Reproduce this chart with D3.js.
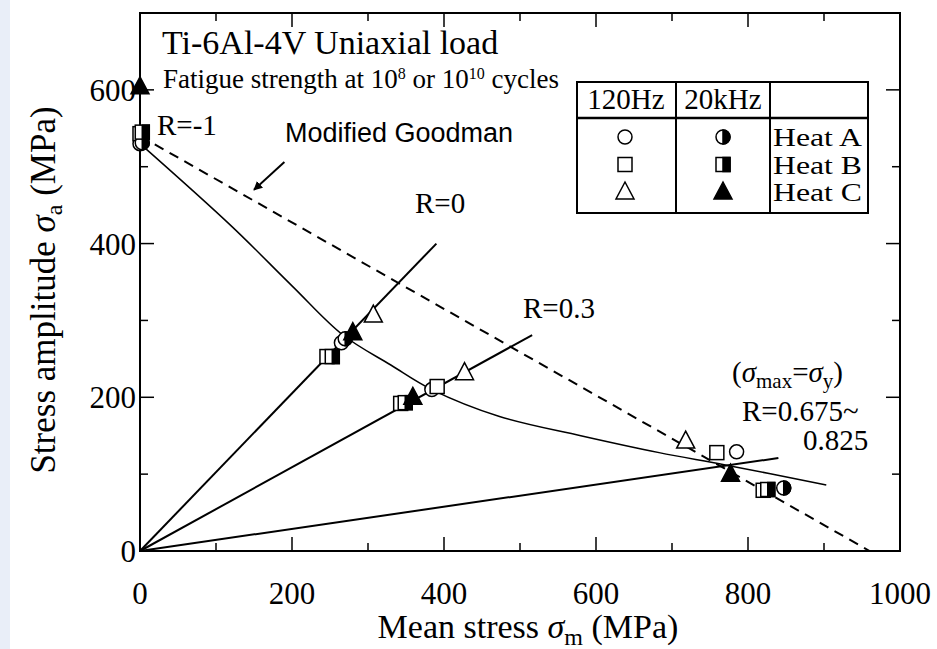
<!DOCTYPE html>
<html>
<head>
<meta charset="utf-8">
<script src="https://cdn.jsdelivr.net/npm/d3@7"></script>
<style>
  body { margin: 0; background: #fff; }
  svg { display: block; font-family: "Liberation Serif", "Times New Roman", serif; }
</style>
</head>
<body>
<div id="chart"></div>
<script>
// tick values
const xTicks = [0, 200, 400, 600, 800, 1000];
const yTicks = [0, 200, 400, 600];

// fatigue strength points [mean stress, stress amplitude]
const heatA120 = [[0, 530], [265, 271], [384, 210], [785, 129]];
const heatA20k = [[3, 531], [270, 276], [847, 82]];
const heatB120 = [[0, 543], [246, 253], [343, 192], [391, 214], [759, 128], [820, 79]];
const heatB20k = [[3, 545], [253, 253], [349, 193], [826, 80]];
const heatC120 = [[307, 307], [427, 232], [718, 143]];
const heatC20k = [[0, 604], [280, 284], [359, 200], [777, 100]];

// lines
const lineR0 = [[0, 0], [390, 400]];
const lineR03 = [[0, 0], [516, 281]];
const lineR075 = [[0, 0], [840, 121]];
const goodman = [[0, 540], [960, 0]];
const fitCurve = [[0, 530], [120, 423], [200, 345], [267, 281], [330, 242], [384, 210],
                  [473, 175], [580, 150], [683, 128], [770, 112], [903, 86]];
const arrowPts = [[190, 506], [150, 470]];

function drawChart() {
   const w = 937, h = 649;
   const svg = d3.select("#chart").append("svg")
                 .attr("width", w).attr("height", h);

   // light scan edge on the left
   svg.append("rect").attr("x", 0).attr("y", 0).attr("width", 10).attr("height", h)
      .attr("fill", "#e9eef8");

   const xScale = d3.scaleLinear().domain([0, 1000]).range([140, 900]);
   const yScale = d3.scaleLinear().domain([0, 700]).range([551, 13]);

   // frame
   svg.append("rect")
      .attr("x", xScale(0)).attr("y", yScale(700))
      .attr("width", xScale(1000) - xScale(0)).attr("height", yScale(0) - yScale(700))
      .attr("fill", "none").attr("stroke", "#000").attr("stroke-width", 2);

   // inward ticks on all four sides
   const ticksG = svg.append("g").attr("stroke", "#000").attr("stroke-width", 1.5);
   d3.range(100, 1000, 100).forEach(v => {
      const len = v % 200 === 0 ? 14 : 8;
      ticksG.append("line").attr("x1", xScale(v)).attr("x2", xScale(v))
            .attr("y1", yScale(0)).attr("y2", yScale(0) - len);
      ticksG.append("line").attr("x1", xScale(v)).attr("x2", xScale(v))
            .attr("y1", yScale(700)).attr("y2", yScale(700) + len);
   });
   d3.range(100, 700, 100).forEach(v => {
      const len = v % 200 === 0 ? 14 : 8;
      ticksG.append("line").attr("x1", xScale(0)).attr("x2", xScale(0) + len)
            .attr("y1", yScale(v)).attr("y2", yScale(v));
      ticksG.append("line").attr("x1", xScale(1000)).attr("x2", xScale(1000) - len)
            .attr("y1", yScale(v)).attr("y2", yScale(v));
   });

   // tick labels
   svg.append("g").selectAll("text").data(xTicks).enter().append("text")
      .attr("x", d => xScale(d)).attr("y", 604)
      .attr("text-anchor", "middle").attr("font-size", 31)
      .text(d => d);
   svg.append("g").selectAll("text").data(yTicks).enter().append("text")
      .attr("x", 136).attr("y", d => yScale(d) + 11)
      .attr("text-anchor", "end").attr("font-size", 31)
      .text(d => d);

   // axis titles
   const xt = svg.append("text").attr("x", 528).attr("y", 638)
      .attr("text-anchor", "middle").attr("font-size", 34);
   xt.append("tspan").text("Mean stress ");
   xt.append("tspan").attr("font-style", "italic").text("σ");
   xt.append("tspan").attr("font-size", 24).attr("dy", 7).text("m");
   xt.append("tspan").attr("dy", -7).text(" (MPa)");

   const yt = svg.append("text").attr("transform", "translate(55,290) rotate(-90)")
      .attr("text-anchor", "middle").attr("font-size", 35);
   yt.append("tspan").text("Stress amplitude ");
   yt.append("tspan").attr("font-style", "italic").text("σ");
   yt.append("tspan").attr("font-size", 24).attr("dy", 7).text("a");
   yt.append("tspan").attr("dy", -7).text(" (MPa)");

   // lines
   const line = d3.line().x(d => xScale(d[0])).y(d => yScale(d[1]));
   [lineR0, lineR03, lineR075].forEach(l => {
      svg.append("path").attr("d", line(l)).attr("fill", "none")
         .attr("stroke", "#000").attr("stroke-width", 2);
   });
   svg.append("path").attr("d", line(goodman)).attr("fill", "none")
      .attr("stroke", "#000").attr("stroke-width", 2).attr("stroke-dasharray", "10,7");
   svg.append("path").attr("d", line.curve(d3.curveCatmullRom)(fitCurve)).attr("fill", "none")
      .attr("stroke", "#000").attr("stroke-width", 1.5);
   line.curve(d3.curveLinear);

   // arrow to Goodman line
   svg.append("defs").append("marker").attr("id", "arrow")
      .attr("viewBox", "0 0 10 10").attr("refX", 9).attr("refY", 5)
      .attr("markerWidth", 9).attr("markerHeight", 9).attr("orient", "auto")
      .attr("markerUnits", "userSpaceOnUse")
      .append("path").attr("d", "M0,0 L10,5 L0,10 z").attr("fill", "#000");
   svg.append("line")
      .attr("x1", xScale(arrowPts[0][0])).attr("y1", yScale(arrowPts[0][1]))
      .attr("x2", xScale(arrowPts[1][0])).attr("y2", yScale(arrowPts[1][1]))
      .attr("stroke", "#000").attr("stroke-width", 2).attr("marker-end", "url(#arrow)");

   // marker drawing
   const sym = svg.append("g").attr("stroke", "#000").attr("stroke-width", 1.5);
   function drawSymbol(g, kind, cx, cy) {
      if (kind === "circle" || kind === "halfCircle") {
         g.append("circle").attr("cx", cx).attr("cy", cy).attr("r", 7).attr("fill", "#fff");
         if (kind === "halfCircle")
            g.append("path").attr("d", `M${cx},${cy - 7} A7,7 0 0 1 ${cx},${cy + 7} Z`).attr("fill", "#000");
      } else if (kind === "square" || kind === "halfSquare") {
         g.append("rect").attr("x", cx - 7).attr("y", cy - 7).attr("width", 14).attr("height", 14).attr("fill", "#fff");
         if (kind === "halfSquare")
            g.append("rect").attr("x", cx).attr("y", cy - 7).attr("width", 7).attr("height", 14).attr("fill", "#000");
      } else {
         g.append("path").attr("d", `M${cx},${cy - 10} L${cx + 9},${cy + 7} L${cx - 9},${cy + 7} Z`)
          .attr("fill", kind === "triangleFilled" ? "#000" : "#fff");
      }
   }
   const series = [
      [heatA120, "circle"], [heatB120, "square"], [heatC120, "triangle"],
      [heatA20k, "halfCircle"], [heatB20k, "halfSquare"], [heatC20k, "triangleFilled"]
   ];
   series.forEach(([data, kind]) => {
      data.forEach(d => drawSymbol(sym, kind, xScale(d[0]), yScale(d[1])));
   });

   // title texts
   svg.append("text").attr("x", 162).attr("y", 54).attr("font-size", 34)
      .text("Ti-6Al-4V Uniaxial load");
   const sub = svg.append("text").attr("x", 163).attr("y", 88).attr("font-size", 27);
   sub.append("tspan").text("Fatigue strength at 10");
   sub.append("tspan").attr("font-size", 16).attr("dy", -9).text("8");
   sub.append("tspan").attr("dy", 9).text(" or 10");
   sub.append("tspan").attr("font-size", 16).attr("dy", -9).text("10");
   sub.append("tspan").attr("dy", 9).text(" cycles");

   // annotations
   const ann = svg.append("g").attr("font-size", 29);
   ann.append("text").attr("x", 157).attr("y", 135).text("R=-1");
   ann.append("text").attr("x", 285).attr("y", 142).attr("font-size", 27)
      .attr("font-family", "'Liberation Sans', Arial, sans-serif").text("Modified Goodman");
   ann.append("text").attr("x", 415).attr("y", 213).text("R=0");
   ann.append("text").attr("x", 523).attr("y", 318).text("R=0.3");
   const sy = ann.append("text").attr("x", 732).attr("y", 382);
   sy.append("tspan").text("(");
   sy.append("tspan").attr("font-style", "italic").text("σ");
   sy.append("tspan").attr("font-size", 21).attr("dy", 6).text("max");
   sy.append("tspan").attr("dy", -6).text("=");
   sy.append("tspan").attr("font-style", "italic").text("σ");
   sy.append("tspan").attr("font-size", 21).attr("dy", 6).text("y");
   sy.append("tspan").attr("dy", -6).text(")");
   ann.append("text").attr("x", 742).attr("y", 421).text("R=0.675~");
   ann.append("text").attr("x", 803).attr("y", 450).text("0.825");

   // legend table
   const lg = svg.append("g");
   lg.append("rect").attr("x", 577).attr("y", 82).attr("width", 291).attr("height", 131)
     .attr("fill", "#fff").attr("stroke", "#000").attr("stroke-width", 2);
   lg.append("line").attr("x1", 577).attr("x2", 868).attr("y1", 118).attr("y2", 118)
     .attr("stroke", "#000").attr("stroke-width", 2.5);
   [676, 770].forEach(x => lg.append("line").attr("x1", x).attr("x2", x)
     .attr("y1", 82).attr("y2", 213).attr("stroke", "#000").attr("stroke-width", 2));
   lg.append("text").attr("x", 626).attr("y", 109).attr("text-anchor", "middle")
     .attr("font-size", 29).text("120Hz");
   lg.append("text").attr("x", 723).attr("y", 109).attr("text-anchor", "middle")
     .attr("font-size", 29).text("20kHz");
   const rows = [["Heat A", "circle", "halfCircle"], ["Heat B", "square", "halfSquare"],
                 ["Heat C", "triangle", "triangleFilled"]];
   const lsym = lg.append("g").attr("stroke", "#000").attr("stroke-width", 1.5);
   rows.forEach((r, i) => {
      const cy = 137 + i * 27.5;
      drawSymbol(lsym, r[1], 625, cy);
      drawSymbol(lsym, r[2], 723, cy);
      lg.append("text").attr("x", 773).attr("y", cy + 9).attr("font-size", 26)
        .attr("textLength", 89).attr("lengthAdjust", "spacingAndGlyphs").text(r[0]);
   });
}

drawChart();
</script>
</body>
</html>
